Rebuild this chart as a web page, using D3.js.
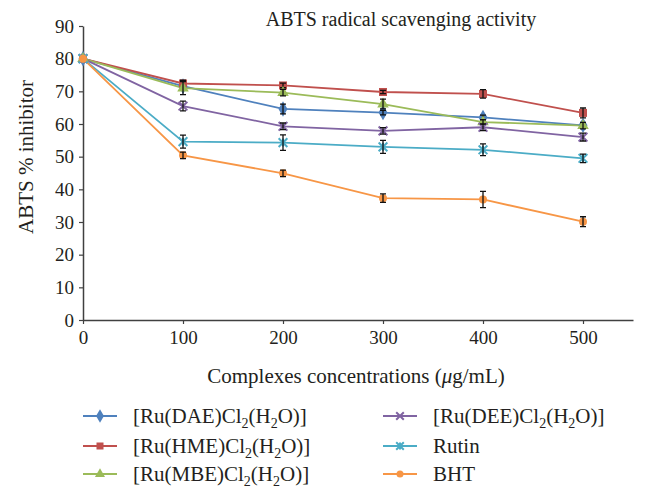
<!DOCTYPE html>
<html><head><meta charset="utf-8">
<script src="https://cdn.jsdelivr.net/npm/d3@7"></script>
<style>
body{margin:0;background:#fff;}
svg text{font-family:"Liberation Serif","DejaVu Serif",serif !important;fill:#231f20;}
</style></head>
<body>
<svg id="chart" width="645" height="500" font-family="Liberation Serif"></svg>
<script>
const concentrations = [0, 100, 200, 300, 400, 500];
const seriesNames = ["DAE", "HME", "MBE", "DEE", "Rutin", "BHT"];
const daeValues   = [80, 71.6, 64.6, 63.5, 62.0, 59.6];
const hmeValues   = [80, 72.4, 71.8, 69.8, 69.2, 63.4];
const mbeValues   = [80, 71.0, 69.6, 66.1, 60.6, 59.5];
const deeValues   = [80, 65.5, 59.3, 57.9, 59.0, 56.0];
const rutinValues = [80, 54.6, 54.3, 53.0, 52.1, 49.5];
const bhtValues   = [80, 50.4, 44.9, 37.3, 36.9, 30.1];
const daeErr   = [0, 0.8, 1.5, 0.7, 0.7, 0.7];
const hmeErr   = [0, 1.0, 0.7, 0.5, 1.3, 1.5];
const mbeErr   = [0, 2.0, 1.0, 1.5, 0.7, 1.0];
const deeErr   = [0, 1.5, 1.0, 1.0, 1.0, 1.2];
const rutinErr = [0, 2.0, 2.4, 2.0, 1.8, 1.3];
const bhtErr   = [0, 1.0, 1.0, 1.3, 2.5, 1.5];
const yTicks = [0, 10, 20, 30, 40, 50, 60, 70, 80, 90];
const xTicks = [0, 100, 200, 300, 400, 500];
const colors = ["#4F81BD", "#C0504D", "#9BBB59", "#8064A2", "#4BACC6", "#F79646"];
const markers = ["diamond", "square", "triangle", "x", "star", "circle"];
const legendLabels = [
  {pre:"[Ru(DAE)", chem:true},
  {pre:"[Ru(HME)", chem:true},
  {pre:"[Ru(MBE)", chem:true},
  {pre:"[Ru(DEE)", chem:true},
  {pre:"Rutin", chem:false},
  {pre:"BHT", chem:false}
];
const title = "ABTS radical scavenging activity";
const xTitle = "Complexes concentrations (";
const yTitle = "ABTS % inhibitor";

const values = [daeValues, hmeValues, mbeValues, deeValues, rutinValues, bhtValues];
const errs = [daeErr, hmeErr, mbeErr, deeErr, rutinErr, bhtErr];

const svg = d3.select("#chart");
const x = d3.scaleLinear().domain([0,550]).range([83,633]);
const y = d3.scaleLinear().domain([0,90]).range([320,26]);

const xAxis = svg.append("g").attr("transform","translate(0,320)")
  .call(d3.axisBottom(x).tickValues(xTicks).tickSize(4).tickSizeOuter(0));
const yAxis = svg.append("g").attr("transform","translate(83,0)")
  .call(d3.axisLeft(y).tickValues(yTicks).tickSize(4).tickSizeOuter(0));
[xAxis,yAxis].forEach(g=>{
  g.attr("font-family","Liberation Serif").attr("font-size",18);
  g.select(".domain").attr("stroke","#404040").attr("stroke-width",1.5);
  g.selectAll(".tick line").attr("stroke","#404040").attr("stroke-width",1.2);
  g.selectAll(".tick text").attr("font-size",19).attr("fill","#231f20");
});
xAxis.selectAll(".tick text").attr("dy","0.9em");
yAxis.selectAll(".tick text").attr("x",-9);

const line = d3.line().x((d,i)=>x(concentrations[i])).y(d=>y(d));

function drawMarker(g, type, color, cx, cy, s){
  if(type==="diamond"){
    g.append("path").attr("d",d3.symbol(d3.symbolDiamond, s*s*1.1)()).attr("transform",`translate(${cx},${cy})`).attr("fill",color);
  } else if(type==="square"){
    g.append("rect").attr("x",cx-s/2).attr("y",cy-s/2).attr("width",s).attr("height",s).attr("fill",color);
  } else if(type==="triangle"){
    g.append("path").attr("d",d3.symbol(d3.symbolTriangle, s*s*0.9)()).attr("transform",`translate(${cx},${cy})`).attr("fill",color);
  } else if(type==="x"){
    g.append("path").attr("d",d3.symbol(d3.symbolX, s*s*0.8)()).attr("transform",`translate(${cx},${cy})`).attr("fill","none").attr("stroke",color).attr("stroke-width",2);
  } else if(type==="star"){
    g.append("path").attr("d",d3.symbol(d3.symbolX, s*s*0.8)()).attr("transform",`translate(${cx},${cy})`).attr("fill","none").attr("stroke",color).attr("stroke-width",2);
    g.append("path").attr("d",`M${cx},${cy-s/2}V${cy+s/2}`).attr("stroke",color).attr("stroke-width",2);
  } else {
    g.append("circle").attr("cx",cx).attr("cy",cy).attr("r",s/2).attr("fill",color);
  }
}

values.forEach((vals,k)=>{
  svg.append("path").datum(vals).attr("d",line).attr("fill","none").attr("stroke",colors[k]).attr("stroke-width",1.8);
});
values.forEach((vals,k)=>{
  const g = svg.append("g");
  vals.forEach((v,i)=>{
    drawMarker(g, markers[k], colors[k], x(concentrations[i]), y(v), 8);
  });
  vals.forEach((v,i)=>{
    const e = errs[k][i];
    if(e<=0) return;
    const cx = x(concentrations[i]);
    g.append("path").attr("d",`M${cx},${y(v+e)}V${y(v-e)}M${cx-3},${y(v+e)}H${cx+3}M${cx-3},${y(v-e)}H${cx+3}`)
      .attr("stroke","#111").attr("stroke-width",1.3).attr("fill","none");
  });
});

svg.append("text").attr("x",401).attr("y",26).attr("text-anchor","middle").attr("font-size",20).text(title);
const xt = svg.append("text").attr("x",356).attr("y",383).attr("text-anchor","middle").attr("font-size",21);
xt.append("tspan").text(xTitle);
xt.append("tspan").attr("font-style","italic").text("μ");
xt.append("tspan").text("g/mL)");
svg.append("text").attr("transform","translate(33,157) rotate(-90)").attr("text-anchor","middle").attr("font-size",21).text(yTitle);

const legendPos = [[83,416],[83,446],[83,474],[383,416],[383,446],[383,474]];
legendLabels.forEach((lab,k)=>{
  const [lx,ly] = legendPos[k];
  const g = svg.append("g");
  g.append("line").attr("x1",lx).attr("x2",lx+34).attr("y1",ly).attr("y2",ly).attr("stroke",colors[k]).attr("stroke-width",1.8);
  drawMarker(g, markers[k], colors[k], lx+17, ly, 7);
  const t = g.append("text").attr("x",lx+50).attr("y",ly+7).attr("font-size",21);
  if(lab.chem){
    t.append("tspan").text(lab.pre+"Cl");
    t.append("tspan").attr("font-size",14).attr("dy",5).text("2");
    t.append("tspan").attr("dy",-5).text("(H");
    t.append("tspan").attr("font-size",14).attr("dy",5).text("2");
    t.append("tspan").attr("dy",-5).text("O)]");
  } else {
    t.text(lab.pre);
  }
});
</script>
</body></html>
